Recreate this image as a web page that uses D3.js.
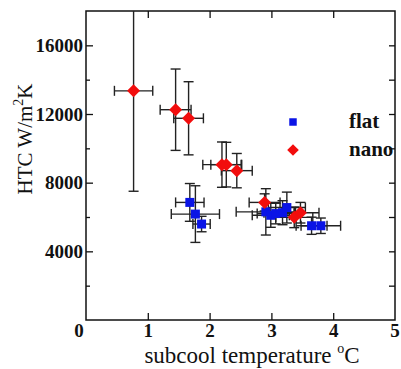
<!DOCTYPE html>
<html>
<head>
<meta charset="utf-8">
<script src="https://cdn.jsdelivr.net/npm/d3@7"></script>
<style>
  body { margin: 0; background: #fff; }
  svg { display: block; font-family: "Liberation Serif", "Times New Roman", serif; }
</style>
</head>
<body>
<div id="chart"></div>
<script>
// flat surface: subcool temperature (C), HTC (W/m2K), x error, y error
const flatX   = [1.68, 1.77, 1.87, 2.91, 2.99, 3.07, 3.18, 3.25, 3.65, 3.80];
const flatY   = [6850, 6170, 5590, 6300, 6100, 6200, 6250, 6550, 5490, 5490];
const flatXErr = [0.23, 0.39, 0.14, 0.48, 0.30, 0.30, 0.30, 0.30, 0.25, 0.32];
const flatYErr = [1100, 1650, 450, 1350, 700, 600, 700, 900, 500, 450];

// nano surface
const nanoX   = [0.77, 1.45, 1.66, 2.20, 2.27, 2.44, 2.89, 3.37, 3.47];
const nanoY   = [13350, 12250, 11750, 9050, 9050, 8700, 6850, 5980, 6250];
const nanoXErr = [0.31, 0.25, 0.24, 0.31, 0.25, 0.25, 0.25, 0.30, 0.30];
const nanoYErr = [5850, 2370, 2130, 1320, 1300, 1000, 500, 600, 600];

const xTicks = [0, 1, 2, 3, 4, 5];
const yTicks = [4000, 8000, 12000, 16000];
const yMinor = [2000, 6000, 10000, 14000];
const seriesNames = ["flat", "nano"];
const seriesColors = ["#0a14e6", "#f20d0d"];

const W = 401, H = 369;
const margin = {top: 11, right: 6, bottom: 49, left: 86};
const width = W - margin.left - margin.right;
const height = H - margin.top - margin.bottom;

const svg = d3.select("#chart").append("svg")
    .attr("width", W)
    .attr("height", H);

const g = svg.append("g")
    .attr("transform", "translate(" + margin.left + "," + margin.top + ")");

const x = d3.scaleLinear().domain([0, 5]).range([0, width]);
const y = d3.scaleLinear().domain([0, 18000]).range([height, 0]);

const toRows = (xs, ys, xe, ye) => xs.map((v, i) => ({x: v, y: ys[i], xe: xe[i], ye: ye[i]}));
const flat = toRows(flatX, flatY, flatXErr, flatYErr);
const nano = toRows(nanoX, nanoY, nanoXErr, nanoYErr);

svg.append("clipPath").attr("id", "plotclip")
    .append("rect").attr("width", width).attr("height", height);

// axes, ticks pointing inside
const tickFont = "19px";
const xAxis = d3.axisBottom(x).tickValues(xTicks.slice(1, 5)).tickSize(-7).tickSizeOuter(0).tickPadding(4).tickFormat(d3.format("d"));
g.append("g").attr("class", "x_axis")
    .attr("transform", "translate(0," + height + ")")
    .call(xAxis);
g.append("g").attr("class", "x_top")
    .call(d3.axisTop(x).tickValues(xTicks.slice(1, 5)).tickSize(-7).tickSizeOuter(0).tickFormat(""));

const yAxis = d3.axisLeft(y).tickValues(yTicks).tickSize(-7).tickSizeOuter(0).tickPadding(3).tickFormat(d3.format("d"));
g.append("g").attr("class", "y_axis").call(yAxis);
g.append("g").attr("class", "y_minor")
    .call(d3.axisLeft(y).tickValues(yMinor).tickSize(-4).tickSizeOuter(0).tickFormat(""));
g.append("g").attr("class", "y_right")
    .attr("transform", "translate(" + width + ",0)")
    .call(d3.axisRight(y).tickValues(yTicks.concat(yMinor)).tickSize(-6).tickSizeOuter(0).tickFormat(""));

// x labels 0 and 5 sit at the frame corners
g.append("g").attr("class", "x_ends")
    .selectAll("text").data([xTicks[0], xTicks[5]]).enter().append("text")
    .attr("x", d => x(d) + (d === 0 ? -7 : 0))
    .attr("y", height + 4)
    .attr("dy", "0.71em")
    .attr("text-anchor", "middle")
    .text(d => d);

g.selectAll("path.domain").remove();
g.selectAll(".tick line").attr("stroke", "#111").attr("stroke-width", 1.3);
g.selectAll("text")
    .style("font-family", "'Liberation Serif', 'Times New Roman', serif")
    .style("font-size", tickFont)
    .style("font-weight", "bold")
    .attr("fill", "#111");

// frame
g.append("rect")
    .attr("width", width).attr("height", height)
    .attr("fill", "none").attr("stroke", "#111").attr("stroke-width", 1.5);

const plot = g.append("g").attr("clip-path", "url(#plotclip)");

function errorBars(sel, data) {
    const cap = 5;
    const eb = sel.append("g").attr("stroke", "#222").attr("stroke-width", 1.4).attr("fill", "none");
    const grp = eb.selectAll("g").data(data).enter().append("g");
    grp.append("line")
        .attr("x1", d => x(d.x)).attr("x2", d => x(d.x))
        .attr("y1", d => y(d.y - d.ye)).attr("y2", d => y(d.y + d.ye));
    grp.append("line")
        .attr("x1", d => x(d.x) - cap).attr("x2", d => x(d.x) + cap)
        .attr("y1", d => y(d.y - d.ye)).attr("y2", d => y(d.y - d.ye));
    grp.append("line")
        .attr("x1", d => x(d.x) - cap).attr("x2", d => x(d.x) + cap)
        .attr("y1", d => y(d.y + d.ye)).attr("y2", d => y(d.y + d.ye));
    grp.append("line")
        .attr("x1", d => x(d.x - d.xe)).attr("x2", d => x(d.x + d.xe))
        .attr("y1", d => y(d.y)).attr("y2", d => y(d.y));
    grp.append("line")
        .attr("x1", d => x(d.x - d.xe)).attr("x2", d => x(d.x - d.xe))
        .attr("y1", d => y(d.y) - cap).attr("y2", d => y(d.y) + cap);
    grp.append("line")
        .attr("x1", d => x(d.x + d.xe)).attr("x2", d => x(d.x + d.xe))
        .attr("y1", d => y(d.y) - cap).attr("y2", d => y(d.y) + cap);
}

errorBars(plot, flat);
errorBars(plot, nano);

const square = d3.symbol().type(d3.symbolSquare).size(81);
const diamond = "M0,-6.5L6.5,0L0,6.5L-6.5,0Z";

plot.append("g").selectAll("path").data(flat).enter().append("path")
    .attr("d", square)
    .attr("transform", d => "translate(" + x(d.x) + "," + y(d.y) + ")")
    .attr("fill", seriesColors[0]);

plot.append("g").selectAll("path").data(nano).enter().append("path")
    .attr("d", diamond)
    .attr("transform", d => "translate(" + x(d.x) + "," + y(d.y) + ")")
    .attr("fill", seriesColors[1]);

// legend
const legend = g.append("g").attr("class", "legend");
const legendY = [111, 139];
seriesNames.forEach((name, i) => {
    const lx = 207, ly = legendY[i];
    legend.append("path")
        .attr("d", i === 0 ? d3.symbol().type(d3.symbolSquare).size(56)() : "M0,-5.8L5.8,0L0,5.8L-5.8,0Z")
        .attr("transform", "translate(" + lx + "," + ly + ")")
        .attr("fill", seriesColors[i]);
    legend.append("text")
        .attr("x", 263).attr("y", ly + 6)
        .style("font-size", "21px")
        .style("font-weight", "bold")
        .attr("fill", "#111")
        .text(name);
});

// axis titles
const xt = svg.append("text")
    .attr("x", 252).attr("y", 363)
    .attr("text-anchor", "middle")
    .style("font-size", "23px")
    .attr("fill", "#111")
    .text("subcool temperature ");
xt.append("tspan").attr("font-size", "14px").attr("dy", -10).text("o");
xt.append("tspan").attr("dy", 10).text("C");

const yt = svg.append("text")
    .attr("transform", "translate(32,139) rotate(-90)")
    .attr("text-anchor", "middle")
    .style("font-size", "21px")
    .attr("fill", "#111")
    .text("HTC W/m");
yt.append("tspan").attr("font-size", "14px").attr("dy", -9).text("2");
yt.append("tspan").attr("dy", 9).text("K");
</script>
</body>
</html>
